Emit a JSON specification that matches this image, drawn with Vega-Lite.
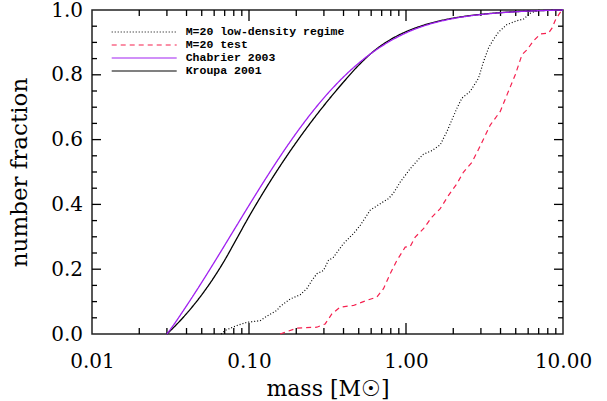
{
  "$schema": "https://vega.github.io/schema/vega-lite/v6.json",
  "width": 471,
  "height": 324,
  "autosize": {"type": "none"},
  "padding": {"left": 92, "top": 10, "right": 44, "bottom": 67},
  "background": "white",
  "datasets": {
    "sim": [
      {"s": "M=20 low-density regime", "m": 0.0664, "f": 0},
      {"s": "M=20 low-density regime", "m": 0.0704, "f": 0.011},
      {"s": "M=20 low-density regime", "m": 0.0836, "f": 0.026},
      {"s": "M=20 low-density regime", "m": 0.0968, "f": 0.036},
      {"s": "M=20 low-density regime", "m": 0.1177, "f": 0.041},
      {"s": "M=20 low-density regime", "m": 0.1298, "f": 0.055},
      {"s": "M=20 low-density regime", "m": 0.1504, "f": 0.073},
      {"s": "M=20 low-density regime", "m": 0.1579, "f": 0.085},
      {"s": "M=20 low-density regime", "m": 0.1828, "f": 0.108},
      {"s": "M=20 low-density regime", "m": 0.2117, "f": 0.121},
      {"s": "M=20 low-density regime", "m": 0.2335, "f": 0.14},
      {"s": "M=20 low-density regime", "m": 0.2514, "f": 0.165},
      {"s": "M=20 low-density regime", "m": 0.2705, "f": 0.186},
      {"s": "M=20 low-density regime", "m": 0.2979, "f": 0.196},
      {"s": "M=20 low-density regime", "m": 0.3207, "f": 0.227},
      {"s": "M=20 low-density regime", "m": 0.345, "f": 0.237},
      {"s": "M=20 low-density regime", "m": 0.3995, "f": 0.279},
      {"s": "M=20 low-density regime", "m": 0.4628, "f": 0.31},
      {"s": "M=20 low-density regime", "m": 0.5106, "f": 0.335},
      {"s": "M=20 low-density regime", "m": 0.5911, "f": 0.382},
      {"s": "M=20 low-density regime", "m": 0.6848, "f": 0.402},
      {"s": "M=20 low-density regime", "m": 0.7737, "f": 0.418},
      {"s": "M=20 low-density regime", "m": 0.8324, "f": 0.435},
      {"s": "M=20 low-density regime", "m": 0.9186, "f": 0.469},
      {"s": "M=20 low-density regime", "m": 1.0636, "f": 0.51},
      {"s": "M=20 low-density regime", "m": 1.2316, "f": 0.545},
      {"s": "M=20 low-density regime", "m": 1.2927, "f": 0.555},
      {"s": "M=20 low-density regime", "m": 1.4628, "f": 0.566},
      {"s": "M=20 low-density regime", "m": 1.652, "f": 0.584},
      {"s": "M=20 low-density regime", "m": 1.823, "f": 0.625},
      {"s": "M=20 low-density regime", "m": 1.9616, "f": 0.661},
      {"s": "M=20 low-density regime", "m": 2.1103, "f": 0.697},
      {"s": "M=20 low-density regime", "m": 2.271, "f": 0.728},
      {"s": "M=20 low-density regime", "m": 2.566, "f": 0.749},
      {"s": "M=20 low-density regime", "m": 2.8986, "f": 0.79},
      {"s": "M=20 low-density regime", "m": 3.1189, "f": 0.841},
      {"s": "M=20 low-density regime", "m": 3.3565, "f": 0.883},
      {"s": "M=20 low-density regime", "m": 3.6124, "f": 0.91},
      {"s": "M=20 low-density regime", "m": 3.8868, "f": 0.932},
      {"s": "M=20 low-density regime", "m": 4.3965, "f": 0.955},
      {"s": "M=20 low-density regime", "m": 5.0918, "f": 0.967},
      {"s": "M=20 low-density regime", "m": 5.6104, "f": 0.972},
      {"s": "M=20 low-density regime", "m": 6.1887, "f": 0.99},
      {"s": "M=20 low-density regime", "m": 6.8297, "f": 0.998},
      {"s": "M=20 low-density regime", "m": 7.1675, "f": 1.0},
      {"s": "M=20 test", "m": 0.1579, "f": 0},
      {"s": "M=20 test", "m": 0.2017, "f": 0.018},
      {"s": "M=20 test", "m": 0.2705, "f": 0.021},
      {"s": "M=20 test", "m": 0.3055, "f": 0.031},
      {"s": "M=20 test", "m": 0.337, "f": 0.062},
      {"s": "M=20 test", "m": 0.3806, "f": 0.083},
      {"s": "M=20 test", "m": 0.4628, "f": 0.088},
      {"s": "M=20 test", "m": 0.5632, "f": 0.104},
      {"s": "M=20 test", "m": 0.6523, "f": 0.114},
      {"s": "M=20 test", "m": 0.7188, "f": 0.14},
      {"s": "M=20 test", "m": 0.7931, "f": 0.186},
      {"s": "M=20 test", "m": 0.8749, "f": 0.227},
      {"s": "M=20 test", "m": 0.9883, "f": 0.268},
      {"s": "M=20 test", "m": 1.0636, "f": 0.27},
      {"s": "M=20 test", "m": 1.1445, "f": 0.299},
      {"s": "M=20 test", "m": 1.2927, "f": 0.325},
      {"s": "M=20 test", "m": 1.4628, "f": 0.361},
      {"s": "M=20 test", "m": 1.652, "f": 0.387},
      {"s": "M=20 test", "m": 1.8659, "f": 0.428},
      {"s": "M=20 test", "m": 2.1103, "f": 0.464},
      {"s": "M=20 test", "m": 2.3256, "f": 0.5},
      {"s": "M=20 test", "m": 2.6303, "f": 0.53},
      {"s": "M=20 test", "m": 2.8986, "f": 0.57},
      {"s": "M=20 test", "m": 3.4406, "f": 0.645},
      {"s": "M=20 test", "m": 3.9847, "f": 0.687},
      {"s": "M=20 test", "m": 4.3965, "f": 0.738},
      {"s": "M=20 test", "m": 4.9659, "f": 0.8},
      {"s": "M=20 test", "m": 5.4802, "f": 0.862},
      {"s": "M=20 test", "m": 5.8965, "f": 0.877},
      {"s": "M=20 test", "m": 6.4946, "f": 0.905},
      {"s": "M=20 test", "m": 7.1675, "f": 0.926},
      {"s": "M=20 test", "m": 8.0946, "f": 0.929},
      {"s": "M=20 test", "m": 8.5094, "f": 0.944},
      {"s": "M=20 test", "m": 8.9296, "f": 0.968},
      {"s": "M=20 test", "m": 9.3756, "f": 0.985},
      {"s": "M=20 test", "m": 9.8538, "f": 1.0}
    ],
    "imf": [
      {"s": "Kroupa 2001", "m": 0.03, "f": 0},
      {"s": "Kroupa 2001", "m": 0.03162, "f": 0.0106},
      {"s": "Kroupa 2001", "m": 0.03981, "f": 0.0617},
      {"s": "Kroupa 2001", "m": 0.05012, "f": 0.1217},
      {"s": "Kroupa 2001", "m": 0.0631, "f": 0.1922},
      {"s": "Kroupa 2001", "m": 0.07, "f": 0.2279},
      {"s": "Kroupa 2001", "m": 0.08, "f": 0.2779},
      {"s": "Kroupa 2001", "m": 0.1, "f": 0.3624},
      {"s": "Kroupa 2001", "m": 0.12589, "f": 0.4438},
      {"s": "Kroupa 2001", "m": 0.15849, "f": 0.5199},
      {"s": "Kroupa 2001", "m": 0.19953, "f": 0.5908},
      {"s": "Kroupa 2001", "m": 0.25119, "f": 0.657},
      {"s": "Kroupa 2001", "m": 0.31623, "f": 0.7188},
      {"s": "Kroupa 2001", "m": 0.39811, "f": 0.7765},
      {"s": "Kroupa 2001", "m": 0.5, "f": 0.8298},
      {"s": "Kroupa 2001", "m": 0.63096, "f": 0.8751},
      {"s": "Kroupa 2001", "m": 0.79433, "f": 0.9084},
      {"s": "Kroupa 2001", "m": 1, "f": 0.933},
      {"s": "Kroupa 2001", "m": 1.2589, "f": 0.9512},
      {"s": "Kroupa 2001", "m": 1.5849, "f": 0.9648},
      {"s": "Kroupa 2001", "m": 1.9953, "f": 0.9748},
      {"s": "Kroupa 2001", "m": 2.5119, "f": 0.9822},
      {"s": "Kroupa 2001", "m": 3.1623, "f": 0.9877},
      {"s": "Kroupa 2001", "m": 3.9811, "f": 0.9918},
      {"s": "Kroupa 2001", "m": 5.0119, "f": 0.9949},
      {"s": "Kroupa 2001", "m": 6.3096, "f": 0.9971},
      {"s": "Kroupa 2001", "m": 7.9433, "f": 0.9988},
      {"s": "Kroupa 2001", "m": 10, "f": 1},
      {"s": "Chabrier 2003", "m": 0.03, "f": 0},
      {"s": "Chabrier 2003", "m": 0.03162, "f": 0.0147},
      {"s": "Chabrier 2003", "m": 0.03981, "f": 0.0855},
      {"s": "Chabrier 2003", "m": 0.05012, "f": 0.1602},
      {"s": "Chabrier 2003", "m": 0.0631, "f": 0.2381},
      {"s": "Chabrier 2003", "m": 0.07943, "f": 0.3176},
      {"s": "Chabrier 2003", "m": 0.1, "f": 0.397},
      {"s": "Chabrier 2003", "m": 0.12589, "f": 0.4748},
      {"s": "Chabrier 2003", "m": 0.15849, "f": 0.5493},
      {"s": "Chabrier 2003", "m": 0.19953, "f": 0.6193},
      {"s": "Chabrier 2003", "m": 0.25119, "f": 0.6836},
      {"s": "Chabrier 2003", "m": 0.31623, "f": 0.7414},
      {"s": "Chabrier 2003", "m": 0.39811, "f": 0.7924},
      {"s": "Chabrier 2003", "m": 0.50119, "f": 0.8365},
      {"s": "Chabrier 2003", "m": 0.63096, "f": 0.8737},
      {"s": "Chabrier 2003", "m": 0.79433, "f": 0.9044},
      {"s": "Chabrier 2003", "m": 1, "f": 0.9294},
      {"s": "Chabrier 2003", "m": 1.2589, "f": 0.9486},
      {"s": "Chabrier 2003", "m": 1.5849, "f": 0.9629},
      {"s": "Chabrier 2003", "m": 1.9953, "f": 0.9735},
      {"s": "Chabrier 2003", "m": 2.5119, "f": 0.9813},
      {"s": "Chabrier 2003", "m": 3.1623, "f": 0.9871},
      {"s": "Chabrier 2003", "m": 3.9811, "f": 0.9914},
      {"s": "Chabrier 2003", "m": 5.0119, "f": 0.9946},
      {"s": "Chabrier 2003", "m": 6.3096, "f": 0.997},
      {"s": "Chabrier 2003", "m": 7.9433, "f": 0.9987},
      {"s": "Chabrier 2003", "m": 10, "f": 1}
    ],
    "xmajor": [{"v": 0.1}, {"v": 1}],
    "xminor": [{"v": 0.02}, {"v": 0.03}, {"v": 0.04}, {"v": 0.05}, {"v": 0.06}, {"v": 0.07}, {"v": 0.08}, {"v": 0.09}, {"v": 0.2}, {"v": 0.3}, {"v": 0.4}, {"v": 0.5}, {"v": 0.6}, {"v": 0.7}, {"v": 0.8}, {"v": 0.9}, {"v": 2}, {"v": 3}, {"v": 4}, {"v": 5}, {"v": 6}, {"v": 7}, {"v": 8}, {"v": 9}],
    "ymajor": [{"v": 0.2}, {"v": 0.4}, {"v": 0.6}, {"v": 0.8}],
    "yminor": [{"v": 0.05}, {"v": 0.1}, {"v": 0.15}, {"v": 0.25}, {"v": 0.3}, {"v": 0.35}, {"v": 0.45}, {"v": 0.5}, {"v": 0.55}, {"v": 0.65}, {"v": 0.7}, {"v": 0.75}, {"v": 0.85}, {"v": 0.9}, {"v": 0.95}]
  },
  "config": {
    "view": {"stroke": "#222222", "strokeWidth": 1.5},
    "axis": {
      "grid": false,
      "domain": false,
      "labelFont": "DejaVu Serif",
      "labelFontSize": 20,
      "labelColor": "black",
      "titleFont": "DejaVu Serif",
      "titleFontSize": 22,
      "titleFontWeight": "normal",
      "titleColor": "black"
    },
    "legend": {
      "orient": "none",
      "legendX": 18.7,
      "legendY": 16,
      "padding": 0,
      "labelFont": "Liberation Mono",
      "labelFontWeight": "bold",
      "labelFontSize": 11.5,
      "labelColor": "black",
      "symbolType": "stroke",
      "symbolSize": 4225,
      "symbolStrokeWidth": 1.2,
      "clipHeight": 12,
      "rowPadding": 1,
      "labelOffset": 8
    }
  },
  "layer": [
    {
      "data": {"name": "sim"},
      "mark": {"type": "line", "strokeWidth": 1.2},
      "encoding": {
        "x": {"field": "m", "type": "quantitative", "scale": {"type": "log", "domain": [0.01, 10], "nice": false},
          "axis": {"orient": "bottom", "values": [0.01, 0.1, 1, 10], "format": ".2f", "ticks": false, "labelPadding": 17, "labelFlush": false, "labelOverlap": false, "title": "mass [M☉]", "titlePadding": 7}},
        "y": {"field": "f", "type": "quantitative", "scale": {"domain": [0, 1], "nice": false, "zero": false},
          "axis": {"orient": "left", "values": [0, 0.2, 0.4, 0.6, 0.8, 1], "format": ".1f", "ticks": false, "labelPadding": 9.5, "labelFlush": false, "labelOverlap": false, "title": "number fraction", "titlePadding": 19, "titleFontSize": 23}},
        "color": {"field": "s", "type": "nominal", "title": null,
          "scale": {"domain": ["M=20 low-density regime", "M=20 test", "Chabrier 2003", "Kroupa 2001"], "range": ["black", "#f5204f", "#a020f0", "black"]}},
        "strokeDash": {"field": "s", "type": "nominal", "title": null,
          "scale": {"domain": ["M=20 low-density regime", "M=20 test", "Chabrier 2003", "Kroupa 2001"], "range": [[1, 2], [5, 4], [1, 0], [1, 0]]}}
      }
    },
    {
      "data": {"name": "xmajor"},
      "mark": {"type": "rule", "color": "black", "strokeWidth": 1.3},
      "encoding": {
        "x": {"field": "v", "type": "quantitative", "scale": {"type": "log", "domain": [0.01, 10], "nice": false},
          "axis": {"orient": "bottom", "values": [0.01, 0.1, 1, 10], "format": ".2f", "ticks": false, "labelPadding": 17, "labelFlush": false, "labelOverlap": false, "title": "mass [M☉]", "titlePadding": 7}},
        "y": {"datum": 0, "type": "quantitative", "scale": {"domain": [0, 1], "nice": false, "zero": false},
          "axis": {"orient": "left", "values": [0, 0.2, 0.4, 0.6, 0.8, 1], "format": ".1f", "ticks": false, "labelPadding": 9.5, "labelFlush": false, "labelOverlap": false, "title": "number fraction", "titlePadding": 19, "titleFontSize": 23}},
        "y2": {"datum": 0.034}
      }
    },
    {
      "data": {"name": "xmajor"},
      "mark": {"type": "rule", "color": "black", "strokeWidth": 1.3},
      "encoding": {
        "x": {"field": "v", "type": "quantitative", "scale": {"type": "log", "domain": [0.01, 10], "nice": false},
          "axis": {"orient": "bottom", "values": [0.01, 0.1, 1, 10], "format": ".2f", "ticks": false, "labelPadding": 17, "labelFlush": false, "labelOverlap": false, "title": "mass [M☉]", "titlePadding": 7}},
        "y": {"datum": 1, "type": "quantitative", "scale": {"domain": [0, 1], "nice": false, "zero": false},
          "axis": {"orient": "left", "values": [0, 0.2, 0.4, 0.6, 0.8, 1], "format": ".1f", "ticks": false, "labelPadding": 9.5, "labelFlush": false, "labelOverlap": false, "title": "number fraction", "titlePadding": 19, "titleFontSize": 23}},
        "y2": {"datum": 0.966}
      }
    },
    {
      "data": {"name": "xminor"},
      "mark": {"type": "rule", "color": "black", "strokeWidth": 1.3},
      "encoding": {
        "x": {"field": "v", "type": "quantitative", "scale": {"type": "log", "domain": [0.01, 10], "nice": false},
          "axis": {"orient": "bottom", "values": [0.01, 0.1, 1, 10], "format": ".2f", "ticks": false, "labelPadding": 17, "labelFlush": false, "labelOverlap": false, "title": "mass [M☉]", "titlePadding": 7}},
        "y": {"datum": 0, "type": "quantitative", "scale": {"domain": [0, 1], "nice": false, "zero": false},
          "axis": {"orient": "left", "values": [0, 0.2, 0.4, 0.6, 0.8, 1], "format": ".1f", "ticks": false, "labelPadding": 9.5, "labelFlush": false, "labelOverlap": false, "title": "number fraction", "titlePadding": 19, "titleFontSize": 23}},
        "y2": {"datum": 0.0185}
      }
    },
    {
      "data": {"name": "xminor"},
      "mark": {"type": "rule", "color": "black", "strokeWidth": 1.3},
      "encoding": {
        "x": {"field": "v", "type": "quantitative", "scale": {"type": "log", "domain": [0.01, 10], "nice": false},
          "axis": {"orient": "bottom", "values": [0.01, 0.1, 1, 10], "format": ".2f", "ticks": false, "labelPadding": 17, "labelFlush": false, "labelOverlap": false, "title": "mass [M☉]", "titlePadding": 7}},
        "y": {"datum": 1, "type": "quantitative", "scale": {"domain": [0, 1], "nice": false, "zero": false},
          "axis": {"orient": "left", "values": [0, 0.2, 0.4, 0.6, 0.8, 1], "format": ".1f", "ticks": false, "labelPadding": 9.5, "labelFlush": false, "labelOverlap": false, "title": "number fraction", "titlePadding": 19, "titleFontSize": 23}},
        "y2": {"datum": 0.9815}
      }
    },
    {
      "data": {"name": "ymajor"},
      "mark": {"type": "rule", "color": "black", "strokeWidth": 1.3},
      "encoding": {
        "y": {"field": "v", "type": "quantitative", "scale": {"domain": [0, 1], "nice": false, "zero": false},
          "axis": {"orient": "left", "values": [0, 0.2, 0.4, 0.6, 0.8, 1], "format": ".1f", "ticks": false, "labelPadding": 9.5, "labelFlush": false, "labelOverlap": false, "title": "number fraction", "titlePadding": 19, "titleFontSize": 23}},
        "x": {"datum": 0.01, "type": "quantitative", "scale": {"type": "log", "domain": [0.01, 10], "nice": false},
          "axis": {"orient": "bottom", "values": [0.01, 0.1, 1, 10], "format": ".2f", "ticks": false, "labelPadding": 17, "labelFlush": false, "labelOverlap": false, "title": "mass [M☉]", "titlePadding": 7}},
        "x2": {"datum": 0.01141}
      }
    },
    {
      "data": {"name": "ymajor"},
      "mark": {"type": "rule", "color": "black", "strokeWidth": 1.3},
      "encoding": {
        "y": {"field": "v", "type": "quantitative", "scale": {"domain": [0, 1], "nice": false, "zero": false},
          "axis": {"orient": "left", "values": [0, 0.2, 0.4, 0.6, 0.8, 1], "format": ".1f", "ticks": false, "labelPadding": 9.5, "labelFlush": false, "labelOverlap": false, "title": "number fraction", "titlePadding": 19, "titleFontSize": 23}},
        "x": {"datum": 10, "type": "quantitative", "scale": {"type": "log", "domain": [0.01, 10], "nice": false},
          "axis": {"orient": "bottom", "values": [0.01, 0.1, 1, 10], "format": ".2f", "ticks": false, "labelPadding": 17, "labelFlush": false, "labelOverlap": false, "title": "mass [M☉]", "titlePadding": 7}},
        "x2": {"datum": 8.765}
      }
    },
    {
      "data": {"name": "yminor"},
      "mark": {"type": "rule", "color": "black", "strokeWidth": 1.3},
      "encoding": {
        "y": {"field": "v", "type": "quantitative", "scale": {"domain": [0, 1], "nice": false, "zero": false},
          "axis": {"orient": "left", "values": [0, 0.2, 0.4, 0.6, 0.8, 1], "format": ".1f", "ticks": false, "labelPadding": 9.5, "labelFlush": false, "labelOverlap": false, "title": "number fraction", "titlePadding": 19, "titleFontSize": 23}},
        "x": {"datum": 0.01, "type": "quantitative", "scale": {"type": "log", "domain": [0.01, 10], "nice": false},
          "axis": {"orient": "bottom", "values": [0.01, 0.1, 1, 10], "format": ".2f", "ticks": false, "labelPadding": 17, "labelFlush": false, "labelOverlap": false, "title": "mass [M☉]", "titlePadding": 7}},
        "x2": {"datum": 0.010761}
      }
    },
    {
      "data": {"name": "yminor"},
      "mark": {"type": "rule", "color": "black", "strokeWidth": 1.3},
      "encoding": {
        "y": {"field": "v", "type": "quantitative", "scale": {"domain": [0, 1], "nice": false, "zero": false},
          "axis": {"orient": "left", "values": [0, 0.2, 0.4, 0.6, 0.8, 1], "format": ".1f", "ticks": false, "labelPadding": 9.5, "labelFlush": false, "labelOverlap": false, "title": "number fraction", "titlePadding": 19, "titleFontSize": 23}},
        "x": {"datum": 10, "type": "quantitative", "scale": {"type": "log", "domain": [0.01, 10], "nice": false},
          "axis": {"orient": "bottom", "values": [0.01, 0.1, 1, 10], "format": ".2f", "ticks": false, "labelPadding": 17, "labelFlush": false, "labelOverlap": false, "title": "mass [M☉]", "titlePadding": 7}},
        "x2": {"datum": 9.293}
      }
    },
    {
      "data": {"name": "imf"},
      "mark": {"type": "line", "strokeWidth": 1.3, "interpolate": "monotone"},
      "encoding": {
        "x": {"field": "m", "type": "quantitative", "scale": {"type": "log", "domain": [0.01, 10], "nice": false},
          "axis": {"orient": "bottom", "values": [0.01, 0.1, 1, 10], "format": ".2f", "ticks": false, "labelPadding": 17, "labelFlush": false, "labelOverlap": false, "title": "mass [M☉]", "titlePadding": 7}},
        "y": {"field": "f", "type": "quantitative", "scale": {"domain": [0, 1], "nice": false, "zero": false},
          "axis": {"orient": "left", "values": [0, 0.2, 0.4, 0.6, 0.8, 1], "format": ".1f", "ticks": false, "labelPadding": 9.5, "labelFlush": false, "labelOverlap": false, "title": "number fraction", "titlePadding": 19, "titleFontSize": 23}},
        "color": {"field": "s", "type": "nominal", "title": null,
          "scale": {"domain": ["M=20 low-density regime", "M=20 test", "Chabrier 2003", "Kroupa 2001"], "range": ["black", "#f5204f", "#a020f0", "black"]}},
        "strokeDash": {"field": "s", "type": "nominal", "title": null,
          "scale": {"domain": ["M=20 low-density regime", "M=20 test", "Chabrier 2003", "Kroupa 2001"], "range": [[1, 2], [5, 4], [1, 0], [1, 0]]}}
      }
    }
  ]
}
